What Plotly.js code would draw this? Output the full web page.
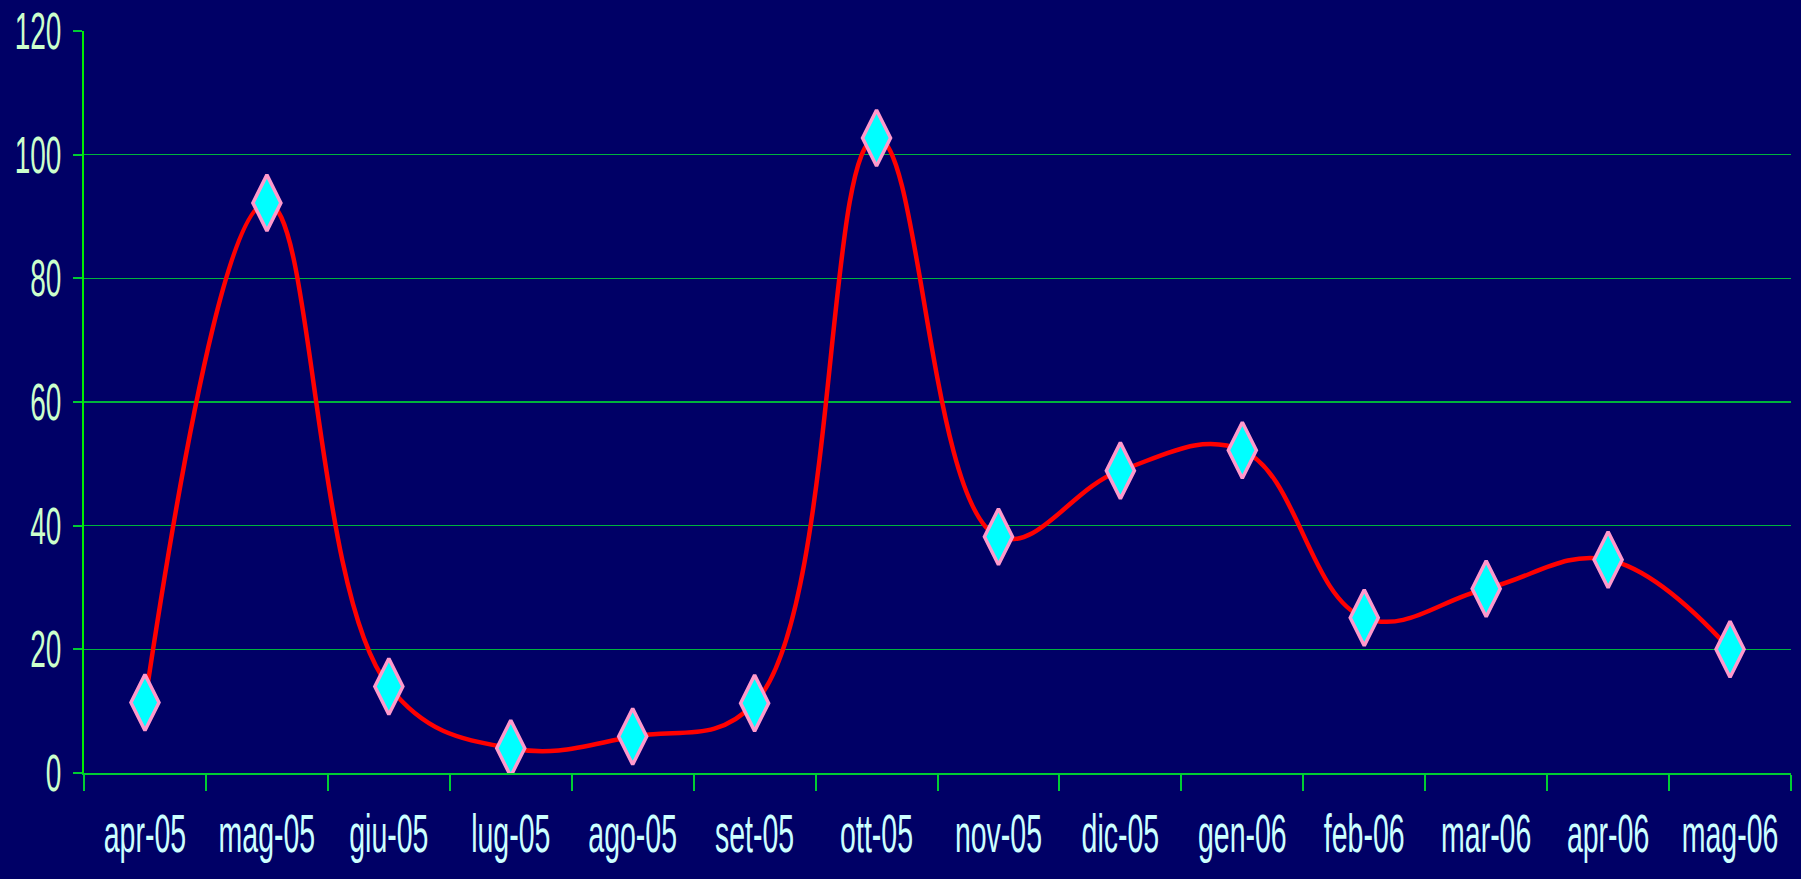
<!DOCTYPE html>
<html><head><meta charset="utf-8">
<script src="https://cdn.plot.ly/plotly-3.0.1.min.js"></script>
<style>html,body{margin:0;padding:0;background:#000066;overflow:hidden;}</style>
</head><body>
<div id="chart" style="width:1801px;height:879px;"></div>
<script>
const months = ['apr-05','mag-05','giu-05','lug-05','ago-05','set-05','ott-05','nov-05','dic-05','gen-06','feb-06','mar-06','apr-06','mag-06'];
const values = [11.4, 92.2, 14.0, 4.0, 5.9, 11.3, 102.7, 38.2, 48.9, 52.2, 25.1, 29.8, 34.5, 20.0];
const yTickVals = [0, 20, 40, 60, 80, 100, 120];

const trace = {
  x: months,
  y: values,
  type: 'scatter',
  mode: 'lines+markers',
  line: {color: '#ff0000', width: 4.5, shape: 'spline', smoothing: 1.15},
  marker: {symbol: 'diamond-tall', size: 40, color: '#00ffff', line: {color: '#ff99cc', width: 3.5}},
  hoverinfo: 'x+y'
};

const layout = {
  width: 1801, height: 879,
  paper_bgcolor: '#000066', plot_bgcolor: '#000066',
  margin: {l: 84, r: 10, t: 31, b: 106},
  showlegend: false,
  xaxis: {
    type: 'category', range: [-0.5, 13.5], dtick: 1, tick0: 0,
    tickson: 'boundaries', ticks: 'outside', ticklen: 16, tickwidth: 2, tickcolor: '#00cc33',
    showline: true, linecolor: '#00cc33', linewidth: 2,
    showgrid: false, zeroline: false, tickangle: 0,
    ticklabelstandoff: 34,
    tickfont: {family: '"Liberation Sans", Arial, sans-serif', size: 28.5, color: '#ccffff'}
  },
  yaxis: {
    range: [0, 120], tickmode: 'array', tickvals: yTickVals,
    ticks: 'outside', ticklen: 9, tickwidth: 2, tickcolor: '#00cc33',
    showline: true, linecolor: '#00ee00', linewidth: 2,
    showgrid: true, gridcolor: '#00b33c', gridwidth: 1.5, zeroline: false,
    ticklabelstandoff: 6,
    tickfont: {family: '"Liberation Sans", Arial, sans-serif', size: 28, color: '#ccffcc'}
  }
};

// Tall, narrow tick labels as in the original: stretch each label vertically about its own centre.
function stretchLabels() {
  const k = 1.85;
  document.querySelectorAll('.xtick text, .ytick text').forEach(function (t) {
    const bb = t.getBBox();
    const cx = bb.x + bb.width / 2, cy = bb.y + bb.height / 2;
    const base = t.getAttribute('transform') || '';
    t.setAttribute('transform', base + ' translate(' + cx + ',' + cy + ') scale(1,' + k + ') translate(' + (-cx) + ',' + (-cy) + ')');
  });
}

Plotly.newPlot('chart', [trace], layout, {displayModeBar: false, staticPlot: true}).then(stretchLabels);
</script>
</body></html>
